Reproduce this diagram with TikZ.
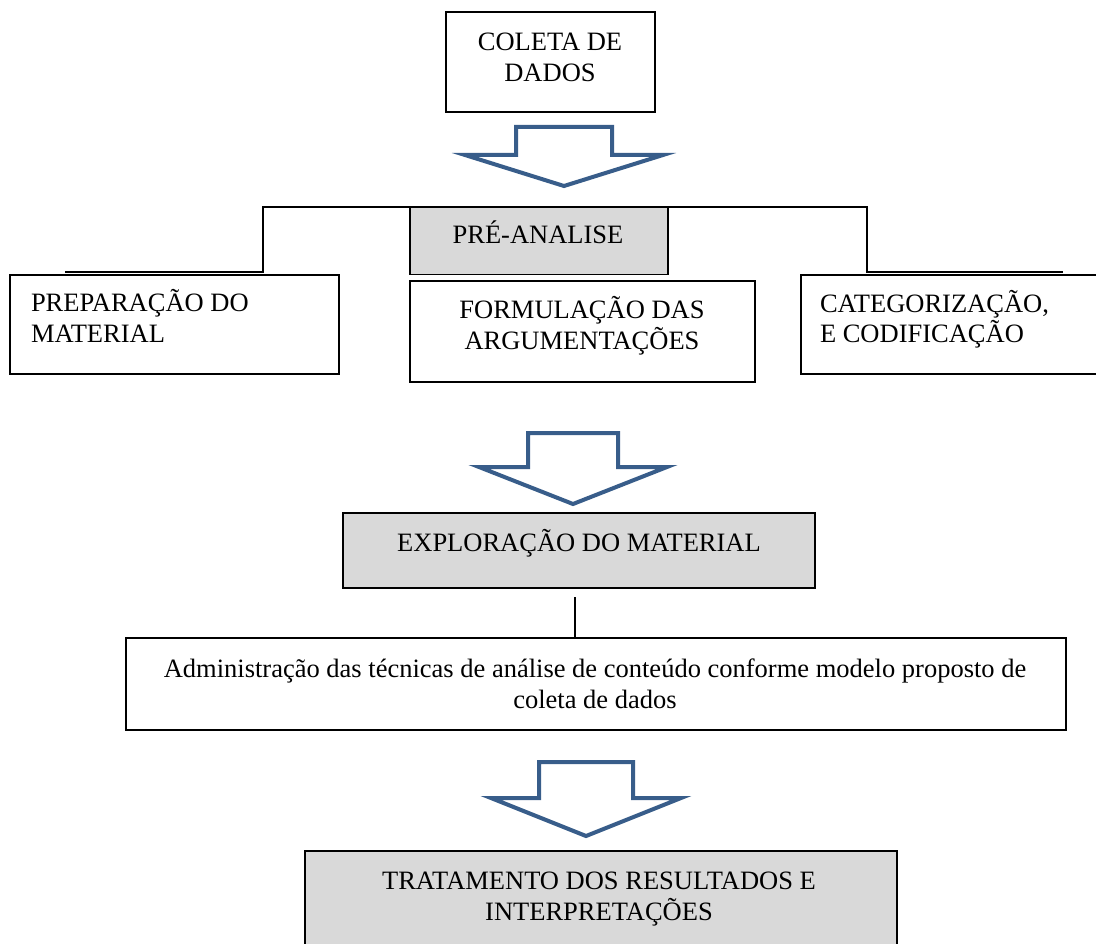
\documentclass[tikz,border=0pt]{standalone}
\usepackage{fontspec}
\setmainfont{Liberation Serif}
\definecolor{arrowblue}{RGB}{56,93,138}
\definecolor{boxgray}{RGB}{217,217,217}
\newcommand{\tstrut}{\rule{0pt}{24pt}}
\newcommand{\hollowdown}[6]{% cx, top, shoulder, tipy, shafthalf, winghalf
  \draw[arrowpath] (#1-#5,#2) -- (#1+#5,#2) -- (#1+#5,#3) -- (#1+#6,#3) -- (#1,#4) -- (#1-#6,#3) -- (#1-#5,#3) -- cycle;}
\begin{document}
\begin{tikzpicture}[x=1pt,y=-1pt,
  boxst/.style={draw=black, line width=1.6pt, inner sep=0pt, outer sep=0pt, fill=white},
  graybox/.style={boxst, fill=boxgray},
  txt/.style={font=\fontsize{26.5}{31}\selectfont, inner sep=0pt, outer sep=0pt},
  conn/.style={draw=black, line width=1.3pt},
  arrowpath/.style={draw=arrowblue, line width=4pt, line join=miter, miter limit=10}]
\useasboundingbox (0,0) rectangle (1096,944);
\fill[white] (0,0) rectangle (1096,944);

% connector lines (behind boxes)
\coordinate (cL) at (65,272);
\coordinate (cR) at (1063,272);
\draw[conn] (cL) -| (263,207) -- (867,207) |- (cR);

% boxes
\node[boxst, minimum width=209pt, minimum height=100pt] (coleta) at (550.5,62) {};
\node[graybox, minimum width=258pt, minimum height=67pt] (pre) at (539,241) {};
\node[boxst, minimum width=329pt, minimum height=99pt] (prep) at (174.5,324.5) {};
\node[boxst, minimum width=345pt, minimum height=101pt] (form) at (582.5,331.5) {};
\node[boxst, minimum width=320pt, minimum height=99pt] (cat) at (961,324.5) {};
\node[graybox, minimum width=472pt, minimum height=75pt] (expl) at (579,550.5) {};
\node[boxst, minimum width=940pt, minimum height=92pt] (adm) at (596,684) {};
\node[graybox, minimum width=592pt, minimum height=110pt] (trat) at (601,906) {};

% texts
\node[txt, anchor=north, align=center] (tcoleta) at (550,27) {\tstrut COLETA DE\\DADOS};
\node[txt, anchor=north, align=center] (tpre) at (538,220) {\tstrut PRÉ-ANALISE};
\node[txt, anchor=north west, align=left] (tprep) at (31,287) {\tstrut PREPARAÇÃO DO\\MATERIAL};
\node[txt, anchor=north, align=center] (tform) at (582,294) {\tstrut FORMULAÇÃO DAS\\ARGUMENTAÇÕES};
\node[txt, anchor=north west, align=left] (tcat) at (820,288) {\tstrut CATEGORIZAÇÃO,\\E CODIFICAÇÃO};
\node[txt, anchor=north, align=center] (texpl) at (579,527) {\tstrut EXPLORAÇÃO DO MATERIAL};
\node[txt, anchor=north, align=center] (tadm) at (595,653) {\tstrut Administração das técnicas de análise de conteúdo conforme modelo proposto de\\coleta de dados};
\node[txt, anchor=north, align=center] (ttrat) at (599,865) {\tstrut TRATAMENTO DOS RESULTADOS E\\INTERPRETAÇÕES};

% vertical link
\coordinate (v1) at (575,597);
\draw[conn] (v1) -- (v1 |- adm.north);

% hollow arrows
\hollowdown{564}{127}{155}{186}{48}{99}
\hollowdown{573}{433}{467}{504}{45}{94}
\hollowdown{586}{762}{798}{836}{47}{95}
\end{tikzpicture}
\end{document}
